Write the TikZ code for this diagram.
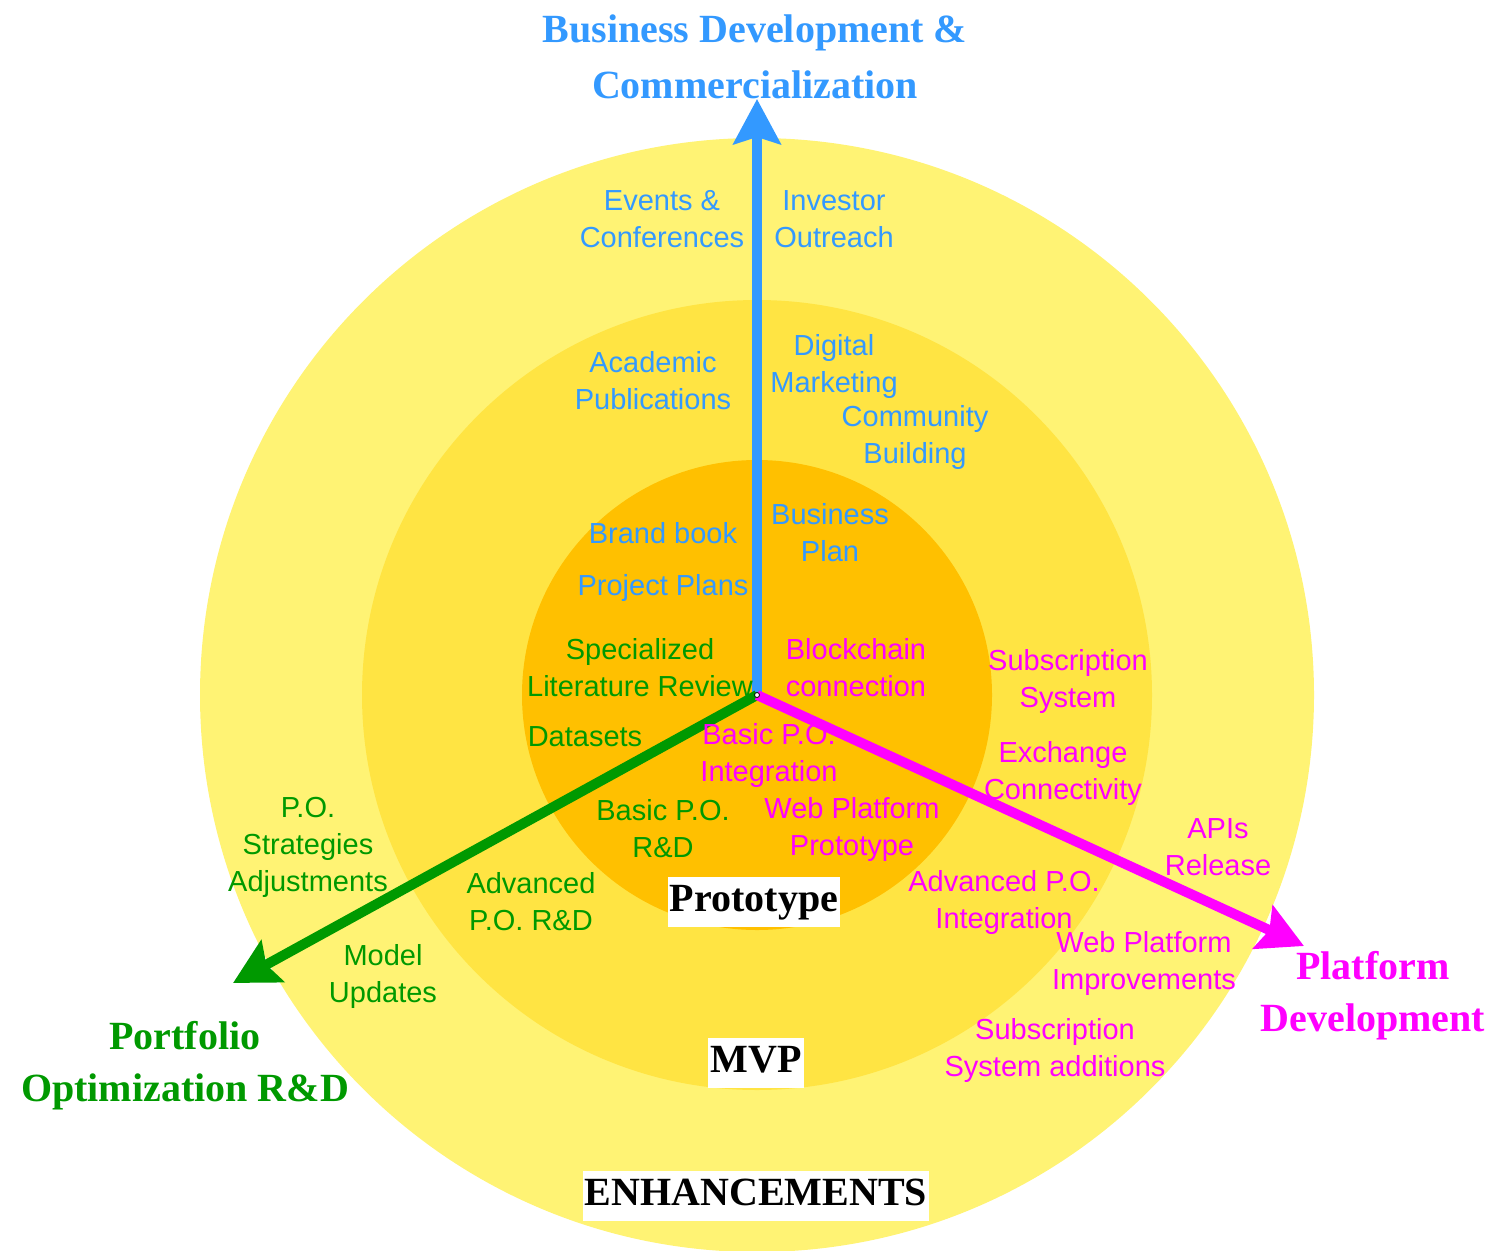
\documentclass[tikz,border=0pt]{standalone}
\usepackage{fontspec}
\setmainfont{Liberation Serif}
\newfontfamily\labfont{Liberation Sans}
\usetikzlibrary{arrows.meta}
\definecolor{ringA}{HTML}{FFF374}
\definecolor{ringB}{HTML}{FFE443}
\definecolor{ringC}{HTML}{FFC000}
\definecolor{bizblue}{HTML}{3399FF}
\definecolor{pogreen}{HTML}{009900}
\definecolor{platmag}{HTML}{FF00FF}
\begin{document}
\begin{tikzpicture}[x=1pt,y=-1pt,
  lab/.style={font=\labfont\fontsize{29}{37}\selectfont, align=center, inner sep=0pt},
  bl/.style={lab,text=bizblue},
  gr/.style={lab,text=pogreen},
  mg/.style={lab,text=platmag},
  title/.style={font=\bfseries\fontsize{40}{52}\selectfont, align=center, inner sep=0pt},
  ringlab/.style={font=\bfseries\fontsize{40}{48}\selectfont, fill=white, text=black,
    inner xsep=2pt, inner ysep=6pt, text height=28pt, text depth=10pt},
  axis/.style={line width=10pt, -{Stealth[length=45pt,width=47pt,inset=7pt]}}]
\useasboundingbox (0,0) rectangle (1504,1250);
% rings
\coordinate (c) at (757,695);
\fill[ringA] (c) circle (557pt);
\fill[ringB] (c) circle (395pt);
\fill[ringC] (c) circle (235pt);
% axes
\coordinate (tipB) at (757,99);
\coordinate (tipG) at (233,983);
\coordinate (tipM) at (1304,946);
\draw[axis,bizblue] (c) -- (tipB);
\draw[axis,pogreen] (c) -- (tipG);
\draw[axis,platmag] (c) -- (tipM);
\draw[black,fill=white,line width=0.8pt] (c) circle (2.5pt);
% titles
\node[title,text=bizblue,font=\bfseries\fontsize{40}{56}\selectfont] (tB) at (755,57) {Business Development \&\\Commercialization};
\node[title,text=pogreen] (tG) at (185,1066) {Portfolio\\Optimization R\&D};
\node[title,text=platmag] (tM) at (1373,996) {Platform\\Development};
% blue labels
\node[bl] (b1) at (662,219) {Events \&\\Conferences};
\node[bl] (b2) at (834,219) {Investor\\Outreach};
\node[bl] (b3) at (653,381) {Academic\\Publications};
\node[bl] (b4) at (834,366) {Digital\\Marketing};
\node[bl] (b5) at (915,437) {Community\\Building};
\node[bl] (b6) at (830,533) {Business\\Plan};
\node[bl] (b7) at (663,533) {Brand book};
\node[bl] (b8) at (663,588) {Project Plans};
% green labels
\node[gr] (g1) at (640,668) {Specialized\\Literature Review};
\node[gr] (g2) at (585,737) {Datasets};
\node[gr] (g3) at (663,829) {Basic P.O.\\R\&D};
\node[gr] (g4) at (531,902) {Advanced\\P.O. R\&D};
\node[gr] (g5) at (308,847) {P.O.\\Strategies\\Adjustments};
\node[gr] (g6) at (383,976) {Model\\Updates};
% magenta labels
\node[mg] (m1) at (856,668) {Blockchain\\connection};
\node[mg] (m2) at (769,755) {Basic P.O.\\Integration};
\node[mg] (m3) at (852,829) {Web Platform\\Prototype};
\node[mg] (m4) at (1068,681) {Subscription\\System};
\node[mg] (m5) at (1063,773) {Exchange\\Connectivity};
\node[mg] (m6) at (1218,847) {APIs\\Release};
\node[mg] (m7) at (1004,902) {Advanced P.O.\\Integration};
\node[mg] (m8) at (1144,963) {Web Platform\\Improvements};
\node[mg] (m9) at (1055,1050) {Subscription\\System additions};
% ring labels
\node[ringlab] (r1) at (754,902) {Prototype};
\node[ringlab] (r2) at (756,1063) {MVP};
\node[ringlab] (r3) at (756,1196) {ENHANCEMENTS};
\end{tikzpicture}
\end{document}
